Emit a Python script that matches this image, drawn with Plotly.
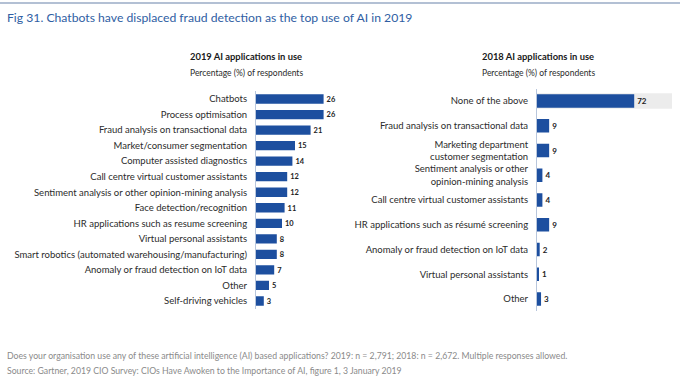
import plotly.graph_objects as go

# ---- Data ----
cats_2019 = [
    "Chatbots",
    "Process optimisation",
    "Fraud analysis on transactional data",
    "Market/consumer segmentation",
    "Computer assisted diagnostics",
    "Call centre virtual customer assistants",
    "Sentiment analysis or other opinion-mining analysis",
    "Face detection/recognition",
    "HR applications such as resume screening",
    "Virtual personal assistants",
    "Smart robotics (automated warehousing/manufacturing)",
    "Anomaly or fraud detection on IoT data",
    "Other",
    "Self-driving vehicles",
]
vals_2019 = [26, 26, 21, 15, 14, 12, 12, 11, 10, 8, 8, 7, 5, 3]

cats_2018 = [
    "None of the above",
    "Fraud analysis on transactional data",
    "Marketing department<br>customer segmentation",
    "Sentiment analysis or other<br>opinion-mining analysis",
    "Call centre virtual customer assistants",
    "HR applications such as résumé screening",
    "Anomaly or fraud detection on IoT data",
    "Virtual personal assistants",
    "Other",
]
vals_2018 = [72, 9, 9, 4, 4, 9, 2, 1, 3]
highlight_2018 = [100, None, None, None, None, None, None, None, None]

title_text = "Fig 31. Chatbots have displaced fraud detection as the top use of AI in 2019"
left_title = "2019 AI applications in use"
right_title = "2018 AI applications in use"
subtitle = "Percentage (%) of respondents"
note_text = ("Does your organisation use any of these artificial intelligence (AI) based applications? "
             "2019: n = 2,791; 2018: n = 2,672. Multiple responses allowed.")
source_text = ("Source: Gartner, 2019 CIO Survey: CIOs Have Awoken to the Importance of AI, "
               "figure 1, 3 January 2019")

# ---- Styling ----
W, H = 680, 383
BAR = "#1d4f9f"
FONT = "Lato"
LBL = "#2b2b2b"

def px_x(x):
    return x / W

def px_y(y):
    return 1 - y / H

fig = go.Figure()

fig.add_trace(go.Bar(
    y=cats_2019, x=vals_2019, orientation="h",
    marker=dict(color=BAR, line=dict(width=0)),
    width=0.6,
    text=[str(v) for v in vals_2019], textposition="outside",
    textfont=dict(family=FONT, size=8, color="#222222", weight="bold"),
    cliponaxis=False, xaxis="x", yaxis="y", showlegend=False,
    hoverinfo="skip",
))

fig.add_trace(go.Bar(
    y=cats_2018, x=highlight_2018, orientation="h",
    marker=dict(color="#ececec", line=dict(width=0)),
    width=0.62, xaxis="x2", yaxis="y2", showlegend=False, hoverinfo="skip",
))
fig.add_trace(go.Bar(
    y=cats_2018, x=vals_2018, orientation="h",
    marker=dict(color=BAR, line=dict(width=0)),
    width=0.55,
    text=[str(v) for v in vals_2018], textposition="outside",
    textfont=dict(family=FONT, size=8, color="#222222", weight="bold"),
    cliponaxis=False, xaxis="x2", yaxis="y2", showlegend=False,
    hoverinfo="skip",
))

# left panel geometry: rows centred 99..301, 14 rows
l_top, l_bot = 99 - 15.54 / 2, 301 + 15.54 / 2
r_top, r_bot = 101 - 24.75 / 2, 299 + 24.75 / 2

axis_common = dict(showgrid=False, zeroline=False, showticklabels=False,
                   fixedrange=True, automargin=False)
yaxis_common = dict(showgrid=False, zeroline=False, showline=True,
                    linecolor="#b8c6dc", linewidth=1, automargin=False,
                    ticks="", ticklabelstandoff=6, type="category",
                    autorange=False, fixedrange=True,
                    tickfont=dict(family=FONT, size=9.5, color=LBL))
fig.update_layout(
    width=W, height=H,
    margin=dict(l=0, r=0, t=0, b=0, pad=0, autoexpand=False),
    paper_bgcolor="white", plot_bgcolor="rgba(0,0,0,0)",
    barmode="overlay",
    font=dict(family=FONT, color=LBL),
    xaxis=dict(domain=[px_x(256), px_x(334)], range=[0, 30], anchor="y",
               **axis_common),
    yaxis=dict(domain=[px_y(l_bot), px_y(l_top)], anchor="x",
               range=[13.5, -0.5], **yaxis_common),
    xaxis2=dict(domain=[px_x(537), px_x(672)], range=[0, 100], anchor="y2",
                **axis_common),
    yaxis2=dict(domain=[px_y(r_bot), px_y(r_top)], anchor="x2",
                range=[8.5, -0.5], **yaxis_common),
)

anns = [
    dict(text=title_text, x=px_x(5), y=px_y(17), xanchor="left", yanchor="middle",
         font=dict(family=FONT, size=12.2, color="#2f5ea3")),
    dict(text="<b>" + left_title + "</b>", x=px_x(246), y=px_y(57),
         xanchor="center", yanchor="middle",
         font=dict(family=FONT, size=9.4, color="#1a1a1a")),
    dict(text=subtitle, x=px_x(246), y=px_y(73), xanchor="center", yanchor="middle",
         font=dict(family=FONT, size=8.5, color="#2b2b2b")),
    dict(text="<b>" + right_title + "</b>", x=px_x(538), y=px_y(57),
         xanchor="center", yanchor="middle",
         font=dict(family=FONT, size=9.4, color="#1a1a1a")),
    dict(text=subtitle, x=px_x(538), y=px_y(73), xanchor="center", yanchor="middle",
         font=dict(family=FONT, size=8.5, color="#2b2b2b")),
    dict(text=note_text, x=px_x(5), y=px_y(355), xanchor="left", yanchor="middle",
         font=dict(family=FONT, size=8.7, color="#8a8a8a")),
    dict(text=source_text, x=px_x(5), y=px_y(370), xanchor="left", yanchor="middle",
         font=dict(family=FONT, size=8.7, color="#8a8a8a")),
]
for a in anns:
    a.update(xref="paper", yref="paper", showarrow=False)
fig.update_layout(annotations=anns)

fig.add_shape(type="line", xref="paper", yref="paper",
              x0=0, x1=1, y0=px_y(3), y1=px_y(3),
              line=dict(color="#9aabc6", width=1.5))

fig.write_html("out.html", config={"displayModeBar": False},
               post_script="document.body.style.margin='0';document.body.style.padding='0';")
